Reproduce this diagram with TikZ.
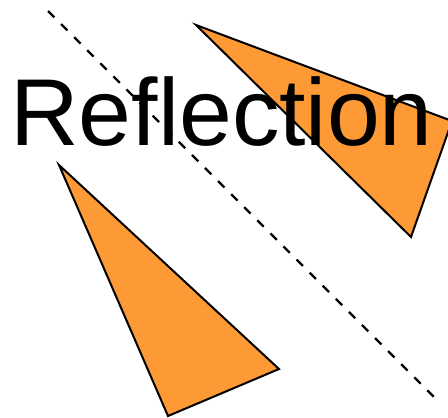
\documentclass[tikz,border=0pt]{standalone}
\usepackage{fontspec}
\setmainfont{Liberation Sans}
\definecolor{triorange}{HTML}{FD9A35}
\begin{document}
\begin{tikzpicture}[x=1pt,y=-1pt,
  tri/.style={fill=triorange,draw=black,line width=2pt,line join=miter},
  mirror/.style={draw=black,line width=2.2pt,dash pattern=on 9pt off 9.5pt},
  title/.style={inner sep=0pt,anchor=base,font=\fontsize{95}{95}\selectfont}]
\useasboundingbox (0,0) rectangle (448,418);
\begin{scope}
\clip (0,0) rectangle (448,418);
\coordinate (m1) at (48,11);
\coordinate (m2) at (438,401);
\draw[mirror] (m1) -- (m2);
\coordinate (a1) at (59,165);
\coordinate (a2) at (279,369);
\coordinate (a3) at (168,416);
\draw[tri] (a1) -- (a2) -- (a3) -- cycle;
\coordinate (b1) at (196,25);
\coordinate (b2) at (452,121);
\coordinate (b3) at (411,237);
\draw[tri] (b1) -- (b2) -- (b3) -- cycle;
\node[title] (t) at (221.5,145) {Reflection};
\end{scope}
\end{tikzpicture}
\end{document}
